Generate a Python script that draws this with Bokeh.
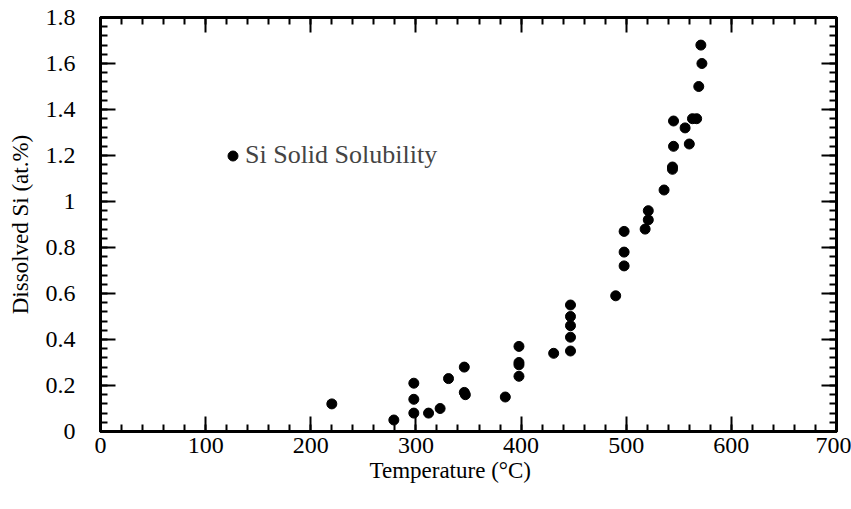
from bokeh.plotting import figure
from bokeh.models import (LinearAxis, SingleIntervalTicker, CustomJSTickFormatter,
                          Range1d, Legend, LegendItem, ColumnDataSource, Title)
from bokeh.embed import file_html
from bokeh.resources import INLINE

# Data
temperature = [220, 279, 298, 298, 298, 312, 323, 331, 346, 346, 347, 385,
               398, 398, 398, 398, 431, 447, 447, 447, 447, 447, 490, 498, 498, 498,
               518, 521, 521, 536, 544, 544, 545, 545, 556, 560, 563, 567, 569, 571, 572]
dissolved_si = [0.12, 0.05, 0.21, 0.14, 0.08, 0.08, 0.10, 0.23, 0.28, 0.17, 0.16, 0.15,
                0.37, 0.30, 0.29, 0.24, 0.34, 0.55, 0.50, 0.46, 0.41, 0.35, 0.59, 0.87, 0.78, 0.72,
                0.88, 0.96, 0.92, 1.05, 1.15, 1.14, 1.35, 1.24, 1.32, 1.25, 1.36, 1.36, 1.50, 1.68, 1.60]
series_name = "Si Solid Solubility"
x_label = "Temperature (\u00b0C)"
y_label = "Dissolved Si (at.%)"

FONT = "Liberation Serif"

p = figure(width=851, height=509, output_backend="svg", toolbar_location=None,
           x_range=Range1d(0, 700), y_range=Range1d(0, 1.8),
           min_border_left=100, min_border_right=15, min_border_top=17, min_border_bottom=78,
           x_axis_location=None, y_axis_location=None)
p.grid.visible = False
p.outline_line_color = "black"
p.outline_line_width = 3

src = ColumnDataSource(dict(t=temperature, v=dissolved_si))
r = p.scatter("t", "v", source=src, size=10, color="black")

def style(ax, labels=True):
    ax.axis_line_width = 3
    ax.axis_line_color = "black"
    ax.major_tick_in = 15
    ax.major_tick_out = 0
    ax.minor_tick_in = 7
    ax.minor_tick_out = 0
    ax.major_tick_line_width = 2
    ax.minor_tick_line_width = 2
    ax.major_label_text_font = FONT
    ax.major_label_text_font_size = "24px"
    ax.major_label_text_color = "black"
    ax.axis_label_text_font = FONT
    ax.axis_label_text_font_size = "23px"
    ax.axis_label_text_font_style = "normal"
    ax.axis_label_text_color = "black"
    if not labels:
        ax.major_label_text_font_size = "0px"
        ax.major_label_text_alpha = 0

xt = SingleIntervalTicker(interval=100, num_minor_ticks=5)
yt = SingleIntervalTicker(interval=0.2, num_minor_ticks=5)
yfmt = CustomJSTickFormatter(code="return tick.toFixed(1).replace(/\\.0$/, '');")

xb = LinearAxis(ticker=xt)
style(xb)
xb.major_label_standoff = 6
p.add_layout(xb, "below")

xtitle = Title(text=x_label, align="left", offset=269, standoff=0,
               text_font=FONT, text_font_size="23px", text_font_style="normal",
               text_color="black")
p.add_layout(xtitle, "below")

xa = LinearAxis(ticker=xt)
style(xa, labels=False)
p.add_layout(xa, "above")

yl = LinearAxis(ticker=yt, axis_label=y_label, formatter=yfmt)
style(yl)
yl.major_label_standoff = 25
yl.axis_label_standoff = 10
p.add_layout(yl, "left")

yr = LinearAxis(ticker=yt)
style(yr, labels=False)
p.add_layout(yr, "right")

legend = Legend(items=[LegendItem(label=series_name, renderers=[r])],
                location=(120, 261), border_line_color=None, background_fill_alpha=0,
                padding=0, margin=0, glyph_width=25, glyph_height=25, label_standoff=0,
                label_text_font=FONT, label_text_font_size="26px")
p.add_layout(legend, "center")

open("out.html", "w").write(file_html(p, INLINE))
